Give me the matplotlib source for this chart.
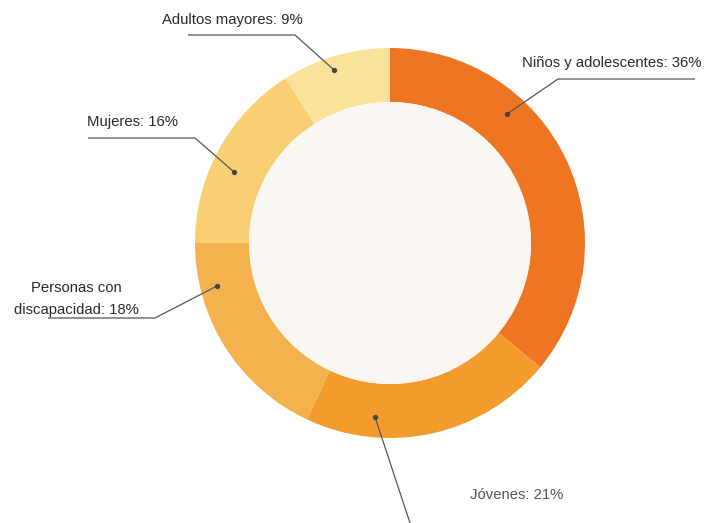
import numpy as np
import matplotlib.pyplot as plt

plt.rcParams['font.family'] = ['Liberation Sans', 'DejaVu Sans']

# data
labels = ["Niños y adolescentes: 36%", "Jóvenes: 21%", "Personas con\ndiscapacidad: 18%",
          "Mujeres: 16%", "Adultos mayores: 9%"]
shares = [36, 21, 18, 16, 9]
colors = ["#EE7623", "#F39B2D", "#F4B24E", "#F8CF73", "#F9E29A"]

# canvas in pixels, y measured from the top
W, H = 706, 523
cx, cy = 390, 243
r_out, r_in = 195, 141

def fy(y):
    return H - y

fig = plt.figure(figsize=(W / 100, H / 100), dpi=100)
ax = fig.add_axes([0, 0, 1, 1])
ax.pie(shares, colors=colors, startangle=90, counterclock=False,
       center=(cx, fy(cy)), radius=r_out,
       wedgeprops=dict(width=r_out - r_in, linewidth=0))
ax.add_patch(plt.Circle((cx, fy(cy)), r_in, color="#FAF6F1", lw=0))

# leader lines: dot -> elbow -> end, then text (pixel layout)
leaders = [
    [(507, 114), (558, 79), (695, 79)],
    [(375, 417), (414, 535)],
    [(217, 286), (155, 318), (48, 318)],
    [(234, 172), (195, 138), (88, 138)],
    [(334, 70), (295, 35), (188, 35)],
]
text_pos = [(522, 63, 'left'), (470, 495, 'left'), (76, 299, 'center'),
            (87, 122, 'left'), (162, 20, 'left')]
text_col = ["#2a2a2a", "#555555", "#2a2a2a", "#2a2a2a", "#2a2a2a"]

for lab, pts, (tx, ty, ha), tc in zip(labels, leaders, text_pos, text_col):
    xs = [p[0] for p in pts]
    ys = [fy(p[1]) for p in pts]
    ax.plot(xs, ys, color="#555555", lw=0.9, solid_capstyle='butt')
    ax.plot(xs[0], ys[0], 'o', ms=2.8, color="#444444")
    ax.text(tx, fy(ty), lab, ha=ha, va='center', fontsize=10.7, color=tc,
            linespacing=1.65, multialignment='center')

ax.set_xlim(0, W)
ax.set_ylim(0, H)
ax.set_aspect('auto')
ax.axis('off')

fig.savefig("out.png", dpi=100, facecolor="white")
